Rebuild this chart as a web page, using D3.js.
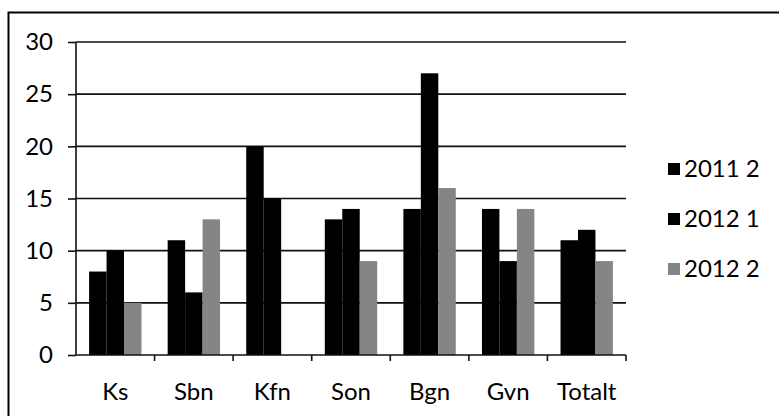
<!DOCTYPE html>
<html>
<head>
<meta charset="utf-8">
<script src="https://cdn.jsdelivr.net/npm/d3@7"></script>
<style>
  html, body { margin: 0; padding: 0; background: #fff; }
  svg { display: block; }
  text { font-family: Lato, "Open Sans", sans-serif; fill: #000; }
</style>
</head>
<body>
<svg id="chart" width="779" height="416"></svg>
<script>
// data
const categories = ['Ks', 'Sbn', 'Kfn', 'Son', 'Bgn', 'Gvn', 'Totalt'];
const seriesNames = ['2011 2', '2012 1', '2012 2'];
const s2011_2 = [8, 11, 20, 13, 14, 14, 11];
const s2012_1 = [10, 6, 15, 14, 27, 9, 12];
const s2012_2 = [5, 13, 0, 9, 16, 14, 9];
const yTicks = [0, 5, 10, 15, 20, 25, 30];
const colors = ['#000000', '#000000', '#858585'];

const values = [s2011_2, s2012_1, s2012_2];

const svg = d3.select('#chart');
const W = 779, H = 416;
const plotL = 76, plotR = 626, plotT = 42, plotB = 355;

svg.append('rect').attr('width', W).attr('height', H).attr('fill', '#fff');

// outer frame (runs off the right and bottom edges)
svg.append('rect')
  .attr('x', 8.5).attr('y', 12.5)
  .attr('width', 800).attr('height', 420)
  .attr('fill', 'none').attr('stroke', '#000').attr('stroke-width', 2);

const x = d3.scaleBand().domain(categories).range([plotL, plotR]);
const step = x.step();
const gap = step / 4.5 * 0.75;
const x1 = d3.scaleBand().domain(seriesNames).range([gap, step - gap]);
const y = d3.scaleLinear().domain([0, 30]).range([plotB, plotT]);

// gridlines
svg.append('g').selectAll('line')
  .data(yTicks.filter(d => d > 0))
  .join('line')
  .attr('x1', plotL).attr('x2', plotR)
  .attr('y1', d => y(d)).attr('y2', d => y(d))
  .attr('stroke', '#111').attr('stroke-width', 1.6);

// y axis
const yAxis = svg.append('g')
  .attr('transform', `translate(${plotL},0)`)
  .call(d3.axisLeft(y).tickValues(yTicks).tickSize(8).tickPadding(15));
yAxis.selectAll('line').attr('stroke', '#111').attr('stroke-width', 1.6);
yAxis.select('.domain').attr('stroke', '#111').attr('stroke-width', 1.6)
  .attr('d', `M0,${plotT}V${plotB}`);
yAxis.selectAll('text').attr('font-size', 24).attr('font-family', 'Lato');

// bars
const groups = svg.append('g').selectAll('g')
  .data(categories)
  .join('g')
  .attr('transform', d => `translate(${x(d)},0)`);

groups.selectAll('rect')
  .data((c, ci) => seriesNames.map((s, si) => ({ s, si, v: values[si][ci] })))
  .join('rect')
  .attr('x', d => x1(d.s))
  .attr('width', x1.bandwidth())
  .attr('y', d => y(d.v))
  .attr('height', d => y(0) - y(d.v))
  .attr('fill', d => colors[d.si]);

// x axis
const xAxis = svg.append('g')
  .attr('transform', `translate(0,${plotB})`)
  .call(d3.axisBottom(x).tickSize(0).tickPadding(28));
xAxis.select('.domain').attr('stroke', '#111').attr('stroke-width', 1.6)
  .attr('d', `M${plotL},0H${plotR}`);
xAxis.selectAll('text').attr('font-size', 24).attr('font-family', 'Lato');

// boundary ticks between categories
svg.append('g').selectAll('line')
  .data(categories.slice(1).concat(['end']))
  .join('line')
  .attr('x1', (d, i) => plotL + step * (i + 1))
  .attr('x2', (d, i) => plotL + step * (i + 1))
  .attr('y1', plotB).attr('y2', plotB + 6)
  .attr('stroke', '#111').attr('stroke-width', 1.6);

// legend
const legend = svg.append('g').selectAll('g')
  .data(seriesNames)
  .join('g')
  .attr('transform', (d, i) => `translate(668,${163 + i * 50})`);
legend.append('rect')
  .attr('width', 12).attr('height', 12)
  .attr('fill', (d, i) => colors[i]);
legend.append('text')
  .attr('x', 16).attr('y', 14)
  .attr('font-size', 24)
  .text(d => d);
</script>
</body>
</html>
